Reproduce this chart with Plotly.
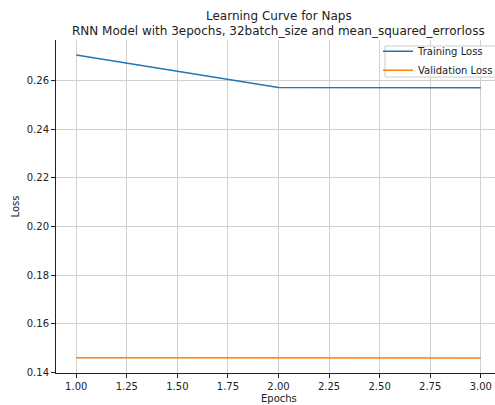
import plotly.graph_objects as go

epochs = [1, 2, 3]
training_loss = [0.2704, 0.2571, 0.2570]
validation_loss = [0.1461, 0.1460, 0.1460]
x_ticks = [1.00, 1.25, 1.50, 1.75, 2.00, 2.25, 2.50, 2.75, 3.00]
y_ticks = [0.14, 0.16, 0.18, 0.20, 0.22, 0.24, 0.26]

FONT = "DejaVu Sans"
W, H = 495, 405
L, R, T, B = 56, 0, 40, 32
PW, PH = W - L - R, H - T - B


def px_x(p):
    return (p - L) / PW


def px_y(p):
    return 1 - (p - T) / PH


fig = go.Figure()
fig.add_trace(go.Scatter(x=epochs, y=training_loss, mode="lines", name="Training Loss",
                         line=dict(color="#1f77b4", width=1.5)))
fig.add_trace(go.Scatter(x=epochs, y=validation_loss, mode="lines", name="Validation Loss",
                         line=dict(color="#ff7f0e", width=1.5)))

axis_common = dict(showgrid=True, gridcolor="#d0d0d0", gridwidth=1,
                   showline=True, linecolor="#222222", linewidth=1, mirror=False,
                   ticks="outside", ticklen=4, tickcolor="#222222", tickwidth=1,
                   zeroline=False, tickfont=dict(family=FONT, size=10, color="#222222"))

fig.update_layout(
    width=W, height=H,
    margin=dict(l=L, r=R, t=T, b=B, autoexpand=False),
    paper_bgcolor="white", plot_bgcolor="white",
    font=dict(family=FONT, size=10, color="#222222"),
    xaxis=dict(range=[0.9, 3.0704], tickvals=x_ticks, tickformat=".2f", **axis_common),
    yaxis=dict(range=[0.1398, 0.2766], tickvals=y_ticks, tickformat=".2f", **axis_common),
    legend=dict(x=px_x(378), y=px_y(36.7), xanchor="left", yanchor="top",
                bgcolor="rgba(0,0,0,0)", borderwidth=0,
                font=dict(family=FONT, size=10, color="#222222"),
                itemwidth=30, tracegroupgap=0),
    showlegend=True,
)

# legend frame
fig.add_shape(type="rect", xref="paper", yref="paper",
              x0=px_x(385), x1=px_x(505), y0=px_y(77), y1=px_y(46),
              fillcolor="rgba(255,255,255,0.8)", line=dict(color="#cccccc", width=1),
              layer="above")

cx = px_x(278.5)
fig.add_annotation(text="Learning Curve for Naps", xref="paper", yref="paper",
                   x=cx, y=px_y(16), xanchor="center", yanchor="middle",
                   showarrow=False, font=dict(family=FONT, size=12, color="#222222"))
fig.add_annotation(text="RNN Model with 3epochs, 32batch_size and mean_squared_errorloss",
                   xref="paper", yref="paper",
                   x=cx, y=px_y(31), xanchor="center", yanchor="middle",
                   showarrow=False, font=dict(family=FONT, size=12, color="#222222"))
fig.add_annotation(text="Epochs", xref="paper", yref="paper",
                   x=cx, y=px_y(398), xanchor="center", yanchor="middle",
                   showarrow=False, font=dict(family=FONT, size=10, color="#222222"))
fig.add_annotation(text="Loss", xref="paper", yref="paper",
                   x=px_x(15), y=0.5, xanchor="center", yanchor="middle",
                   textangle=-90, showarrow=False, font=dict(family=FONT, size=10, color="#222222"))

fig.write_html("out.html", config={"displayModeBar": False},
               post_script="document.body.style.margin='0';document.body.style.overflow='hidden';")
